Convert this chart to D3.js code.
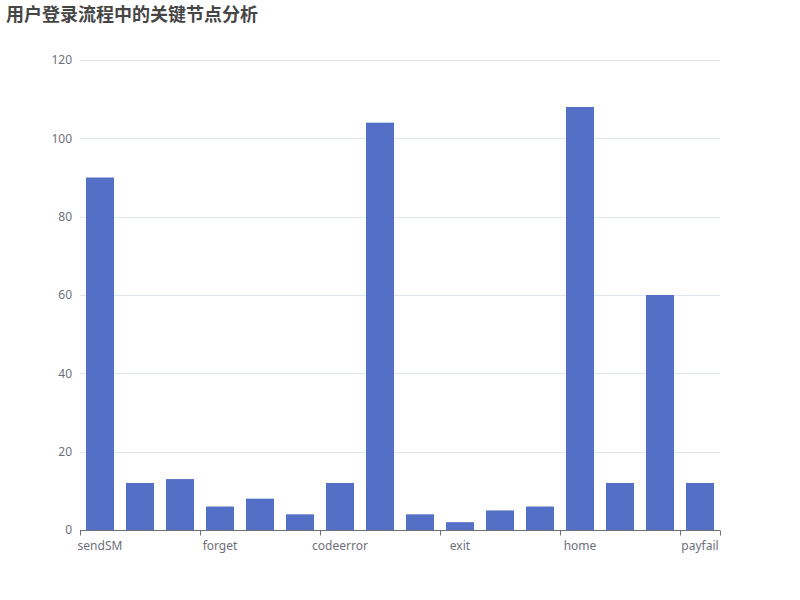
<!DOCTYPE html>
<html>
<head>
<meta charset="utf-8">
<script src="https://cdn.jsdelivr.net/npm/d3@7"></script>
<style>
  body { margin: 0; background: #fff; }
</style>
</head>
<body>
<div id="chart"></div>
<script>
// data
const categories = ['sendSM', 'sendSMok', 'login', 'forget', 'reset', 'verify',
  'codeerror', 'success', 'retry', 'exit', 'timeout', 'register',
  'home', 'pay', 'paysuccess', 'payfail']
const values = [90, 12, 13, 6, 8, 4, 12, 104, 4, 2, 5, 6, 108, 12, 60, 12]
const yTicks = [0, 20, 40, 60, 80, 100, 120]
const titleText = '用户登录流程中的关键节点分析'

const width = 800
const height = 600
const margin = { top: 60, right: 80, bottom: 70, left: 80 }
const font = '"Noto Sans", sans-serif'

const svg = d3.select('#chart')
  .append('svg')
  .attr('width', width)
  .attr('height', height)

const x = d3.scaleBand()
  .domain(categories)
  .range([margin.left, width - margin.right])
  .paddingInner(0)

const y = d3.scaleLinear()
  .domain([0, 120])
  .range([height - margin.bottom, margin.top])

// title
svg.append('text')
  .attr('x', 6)
  .attr('y', 21)
  .attr('font-size', '18px')
  .attr('font-weight', 'bold')
  .attr('font-family', '"Noto Sans CJK SC", sans-serif')
  .attr('fill', '#464646')
  .text(titleText)

// gridlines
svg.append('g')
  .selectAll('line')
  .data(yTicks.filter(d => d > 0))
  .join('line')
  .attr('x1', margin.left)
  .attr('x2', width - margin.right)
  .attr('y1', d => Math.round(y(d)) + 0.5)
  .attr('y2', d => Math.round(y(d)) + 0.5)
  .attr('stroke', '#e0e6f1')
  .attr('stroke-width', 1)

// y axis labels
svg.append('g')
  .attr('transform', `translate(${margin.left},0)`)
  .call(d3.axisLeft(y).tickValues(yTicks).tickSize(0).tickPadding(8))
  .call(g => {
    g.select('.domain').remove()
    g.selectAll('.tick text')
      .attr('fill', '#6e7079')
      .attr('font-size', '12px')
      .attr('font-family', font)
  })

// bars
const barW = x.bandwidth() * 0.7
svg.append('g')
  .selectAll('rect')
  .data(categories.map((c, i) => ({ c, v: values[i] })))
  .join('rect')
  .attr('x', d => x(d.c) + (x.bandwidth() - barW) / 2)
  .attr('y', d => y(d.v))
  .attr('width', barW)
  .attr('height', d => y(0) - y(d.v))
  .attr('fill', '#5470c6')

// x axis: ticks at band boundaries, labels centred on every 3rd band
const xAxisG = svg.append('g')
  .attr('transform', `translate(0,${Math.round(y(0)) + 0.5})`)

xAxisG.append('line')
  .attr('x1', margin.left)
  .attr('x2', width - margin.right)
  .attr('stroke', '#6e7079')

const shown = categories.filter((c, i) => i % 3 === 0)
const tickXs = shown.map(c => x(c)).concat([width - margin.right])

xAxisG.selectAll('.tick')
  .data(tickXs)
  .join('line')
  .attr('class', 'tick')
  .attr('x1', d => Math.round(d) + 0.5)
  .attr('x2', d => Math.round(d) + 0.5)
  .attr('y1', 0)
  .attr('y2', 5)
  .attr('stroke', '#6e7079')

xAxisG.selectAll('.label')
  .data(shown)
  .join('text')
  .attr('class', 'label')
  .attr('x', d => x(d) + x.bandwidth() / 2)
  .attr('y', 19)
  .attr('text-anchor', 'middle')
  .attr('fill', '#6e7079')
  .attr('font-size', '12px')
  .attr('font-family', font)
  .text(d => d)
</script>
</body>
</html>
